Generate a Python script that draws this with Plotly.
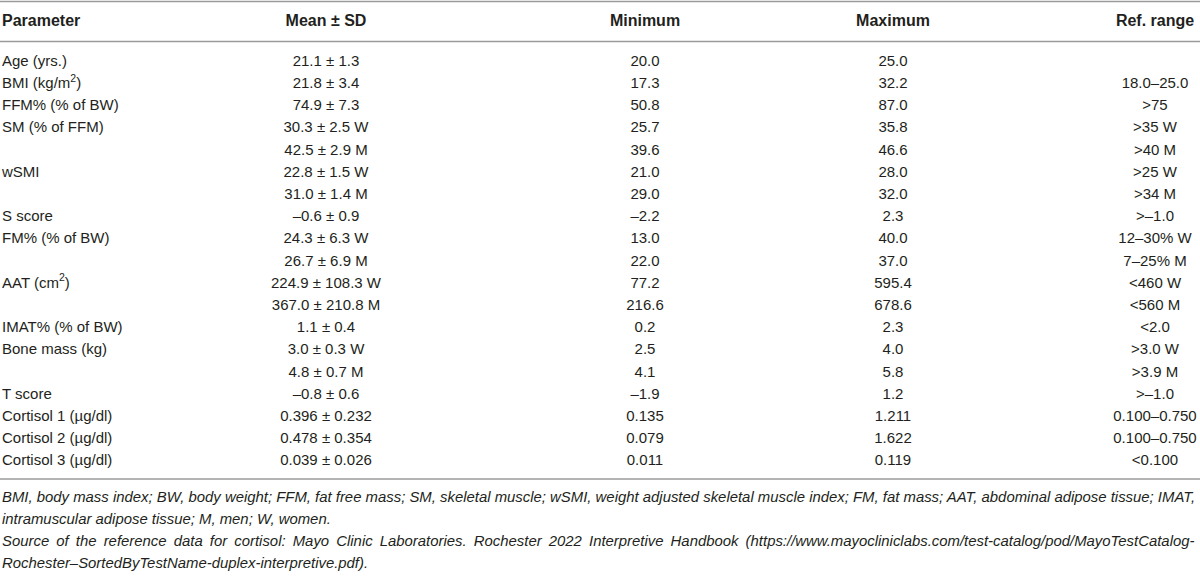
import plotly.graph_objects as go

W, H = 1200, 578

headers = ["Parameter", "Mean ± SD", "Minimum", "Maximum", "Ref. range"]

parameters = ["Age (yrs.)", "BMI (kg/m<sup>2</sup>)", "FFM% (% of BW)", "SM (% of FFM)", "",
              "wSMI", "", "S score", "FM% (% of BW)", "", "AAT (cm<sup>2</sup>)", "",
              "IMAT% (% of BW)", "Bone mass (kg)", "", "T score",
              "Cortisol 1 (µg/dl)", "Cortisol 2 (µg/dl)", "Cortisol 3 (µg/dl)"]

mean_sd = ["21.1 ± 1.3", "21.8 ± 3.4", "74.9 ± 7.3", "30.3 ± 2.5 W", "42.5 ± 2.9 M",
           "22.8 ± 1.5 W", "31.0 ± 1.4 M", "–0.6 ± 0.9", "24.3 ± 6.3 W", "26.7 ± 6.9 M",
           "224.9 ± 108.3 W", "367.0 ± 210.8 M", "1.1 ± 0.4", "3.0 ± 0.3 W", "4.8 ± 0.7 M",
           "–0.8 ± 0.6", "0.396 ± 0.232", "0.478 ± 0.354", "0.039 ± 0.026"]

minimum = ["20.0", "17.3", "50.8", "25.7", "39.6", "21.0", "29.0", "–2.2", "13.0", "22.0",
           "77.2", "216.6", "0.2", "2.5", "4.1", "–1.9", "0.135", "0.079", "0.011"]

maximum = ["25.0", "32.2", "87.0", "35.8", "46.6", "28.0", "32.0", "2.3", "40.0", "37.0",
           "595.4", "678.6", "2.3", "4.0", "5.8", "1.2", "1.211", "1.622", "0.119"]

ref_range = ["", "18.0–25.0", ">75", ">35 W", ">40 M", ">25 W", ">34 M", ">–1.0",
             "12–30% W", "7–25% M", "<460 W", "<560 M", "<2.0", ">3.0 W", ">3.9 M",
             ">–1.0", "0.100–0.750", "0.100–0.750", "<0.100"]

footnotes = [
    "BMI, body mass index; BW, body weight; FFM, fat free mass; SM, skeletal muscle; wSMI, weight adjusted skeletal muscle index; FM, fat mass; AAT, abdominal adipose tissue; IMAT,",
    "intramuscular adipose tissue; M, men; W, women.",
    "Source of the reference data for cortisol: Mayo Clinic Laboratories. Rochester 2022 Interpretive Handbook (https://www.mayocliniclabs.com/test-catalog/pod/MayoTestCatalog-",
    "Rochester–SortedByTestName-duplex-interpretive.pdf).",
]
justified = [False, False, True, False]

# layout (pixel units)
FONT = "Liberation Sans, Arial, sans-serif"
TXT = "#231f20"
RULE = "#9a9a9a"
HEAD_Y = 22
ROW0 = 62
ROWH = 22.2
col_x = [2, 326, 645, 893, 1155]
FOOT_Y0 = 497
FOOT_DY = 22

n = len(parameters)
row_y = [ROW0 + i * ROWH for i in range(n)]
columns = [parameters, mean_sd, minimum, maximum, ref_range]

fig = go.Figure()
for ci, col in enumerate(columns):
    xs = [col_x[ci] for t in col if t]
    ys = [row_y[i] for i, t in enumerate(col) if t]
    ts = [t for t in col if t]
    fig.add_trace(go.Scatter(
        x=xs, y=ys, mode="text", text=ts,
        textposition="middle right" if ci == 0 else "middle center",
        textfont=dict(family=FONT, size=15, color=TXT),
        hoverinfo="skip", showlegend=False, cliponaxis=False))

fig.add_trace(go.Scatter(
    x=col_x, y=[HEAD_Y] * len(headers), mode="text",
    text=[f"<b>{h}</b>" for h in headers],
    textposition=["middle right"] + ["middle center"] * 4,
    textfont=dict(family=FONT, size=16, color=TXT),
    hoverinfo="skip", showlegend=False, cliponaxis=False))

for yy in [1.5, 41.5, 479]:
    fig.add_shape(type="line", x0=0, x1=W, y0=yy, y1=yy, xref="x", yref="y",
                  line=dict(color=RULE, width=1.5))

for i, line in enumerate(footnotes):
    txt = line.replace(" ", " \u2009") if justified[i] else line
    fig.add_annotation(x=0, y=FOOT_Y0 + i * FOOT_DY, xref="x", yref="y",
                       text=f"<i>{txt}</i>", showarrow=False, xanchor="left", yanchor="middle",
                       font=dict(family=FONT, size=14.9, color=TXT))

fig.update_layout(
    width=W, height=H, margin=dict(l=0, r=0, t=0, b=0),
    paper_bgcolor="white", plot_bgcolor="white",
    xaxis=dict(range=[0, W], visible=False, fixedrange=True),
    yaxis=dict(range=[H, 0], visible=False, fixedrange=True),
)

fig.write_html("out.html", config={"displayModeBar": False, "staticPlot": True},
               post_script="document.body.style.margin='0';document.body.style.overflow='hidden';")
